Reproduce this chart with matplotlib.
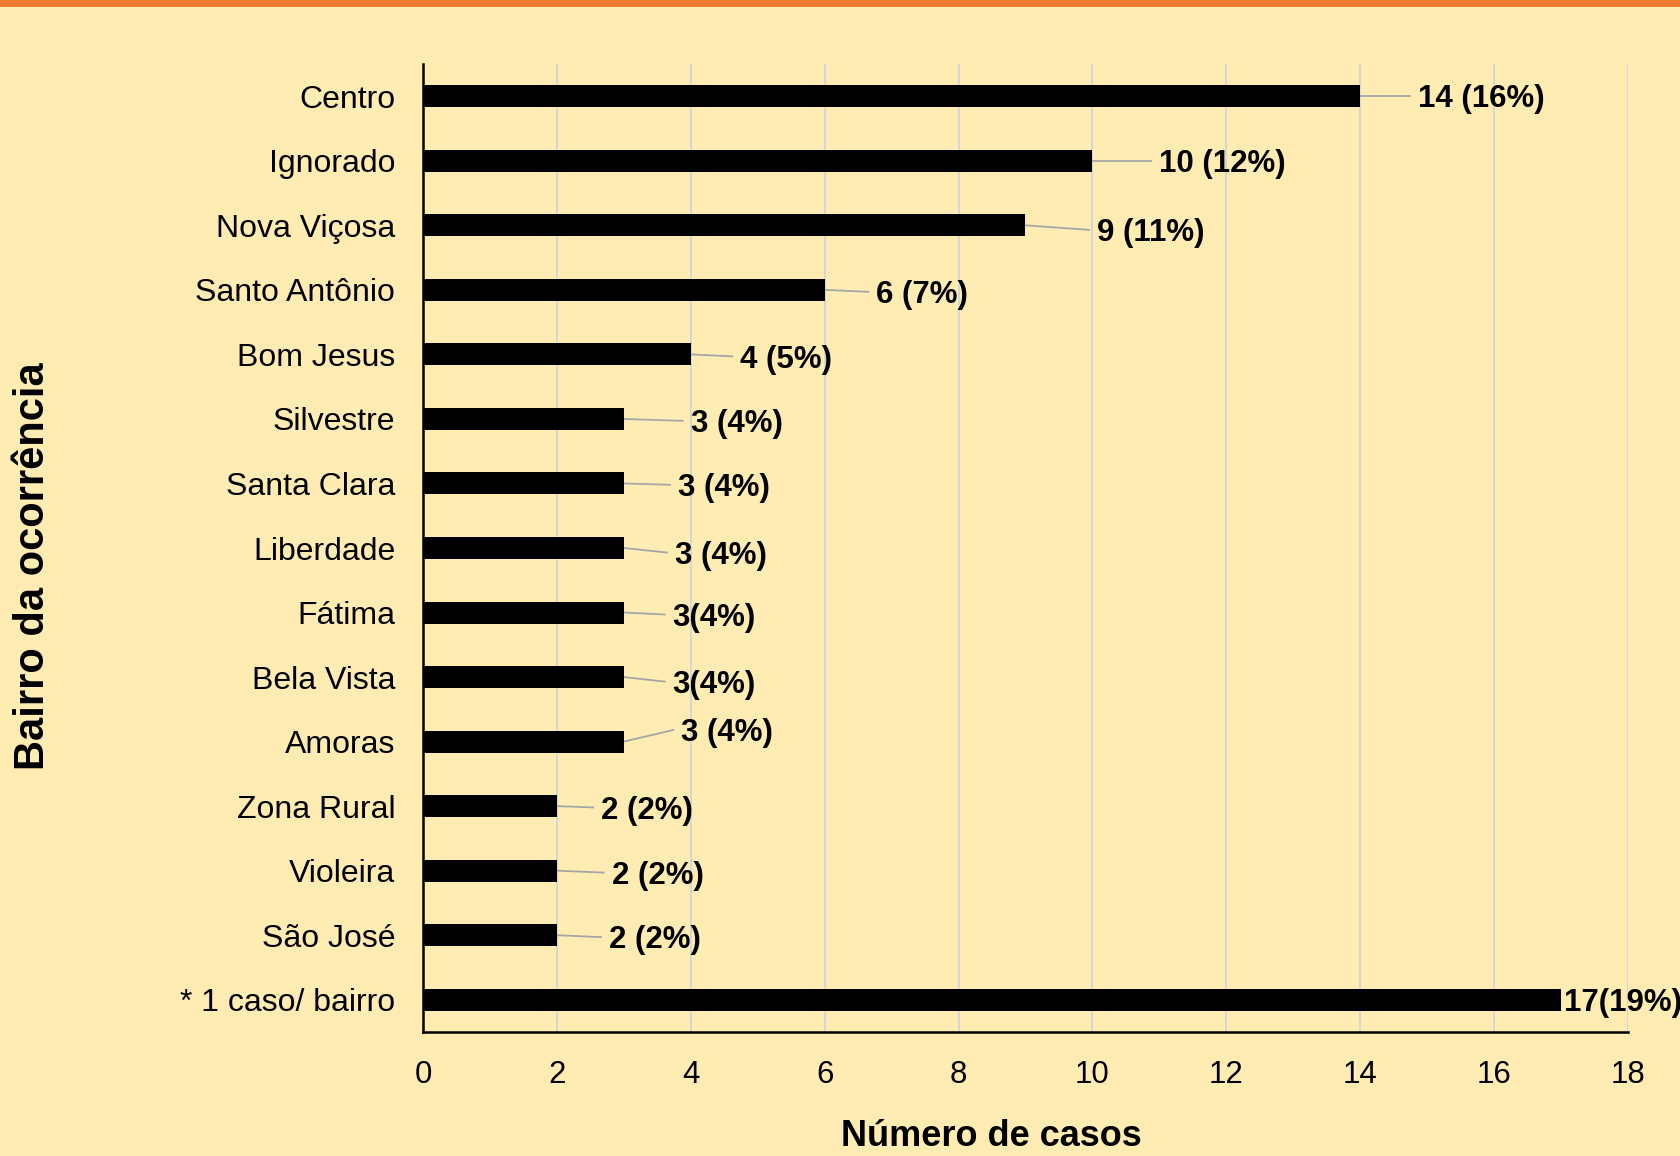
import matplotlib.pyplot as plt
from matplotlib.patches import Rectangle

plt.rcParams['font.family'] = ['Liberation Sans', 'DejaVu Sans']

bairros = ["Centro", "Ignorado", "Nova Viçosa", "Santo Antônio", "Bom Jesus",
           "Silvestre", "Santa Clara", "Liberdade", "Fátima", "Bela Vista",
           "Amoras", "Zona Rural", "Violeira", "São José", "* 1 caso/ bairro"]
casos = [14, 10, 9, 6, 4, 3, 3, 3, 3, 3, 3, 2, 2, 2, 17]
rotulos = ["14 (16%)", "10 (12%)", "9 (11%)", "6 (7%)", "4 (5%)", "3 (4%)",
           "3 (4%)", "3 (4%)", "3(4%)", "3(4%)", "3 (4%)", "2 (2%)", "2 (2%)",
           "2 (2%)", "17(19%)"]

# where each data label sits (x in data units, y shift in category units)
lab_x = [14.86, 11.0, 10.07, 6.77, 4.74, 4.0, 3.81, 3.76, 3.73, 3.73, 3.86,
         2.66, 2.82, 2.78, 17.05]
lab_dy = [0.0, 0.0, 0.07, 0.03, 0.03, 0.03, 0.02, 0.07, 0.03, 0.07, -0.18,
          0.02, 0.03, 0.03, 0.0]
txt_shift = 0.05  # text sits a bit under the leader end

bg = "#FFECB3"
fig = plt.figure(figsize=(16.81, 11.56), dpi=100, facecolor=bg)
fig.patches.append(Rectangle((0, 1 - 7 / 1156), 1, 7 / 1156, transform=fig.transFigure,
                             facecolor="#ED7D31", edgecolor="none", zorder=0))

ax = fig.add_axes([423 / 1681, 1 - 1032 / 1156, (1628 - 423) / 1681, (1032 - 64) / 1156])
ax.set_facecolor(bg)

pos = list(range(len(bairros)))
ax.barh(pos, casos, height=0.34, color="black", zorder=3)

for i, v in enumerate(casos):
    y = i + lab_dy[i]
    if lab_x[i] - v > 0.3:
        ax.plot([v, lab_x[i] - 0.12], [i, y], color="#A6A6A6", lw=1.3, zorder=2,
                clip_on=False)
    ax.text(lab_x[i], y + txt_shift, rotulos[i], ha="left", va="center", fontsize=22.5,
            fontweight="bold", clip_on=False, zorder=4)

ax.set_xlim(0, 18)
ax.set_ylim(len(bairros) - 0.5, -0.5)
ax.set_xticks(range(0, 19, 2))
ax.set_yticks(pos)
ax.set_yticklabels(bairros)
ax.tick_params(axis="y", length=0, pad=20, labelsize=23)
ax.tick_params(axis="x", length=0, pad=20, labelsize=22.5)

ax.grid(axis="x", color="#D0D4DC", lw=1.3, zorder=1)
for s in ["top", "right"]:
    ax.spines[s].set_visible(False)
ax.spines["left"].set_linewidth(1.8)
ax.spines["bottom"].set_linewidth(1.8)

fig.text(991 / 1681, 1 - 1136 / 1156, "Número de casos", ha="center", va="center",
         fontsize=26, fontweight="bold")
fig.text(33 / 1681, 1 - 566 / 1156, "Bairro da ocorrência", ha="center", va="center",
         rotation=90, fontsize=30, fontweight="bold")

fig.savefig("out.png", dpi=100, facecolor=bg)
